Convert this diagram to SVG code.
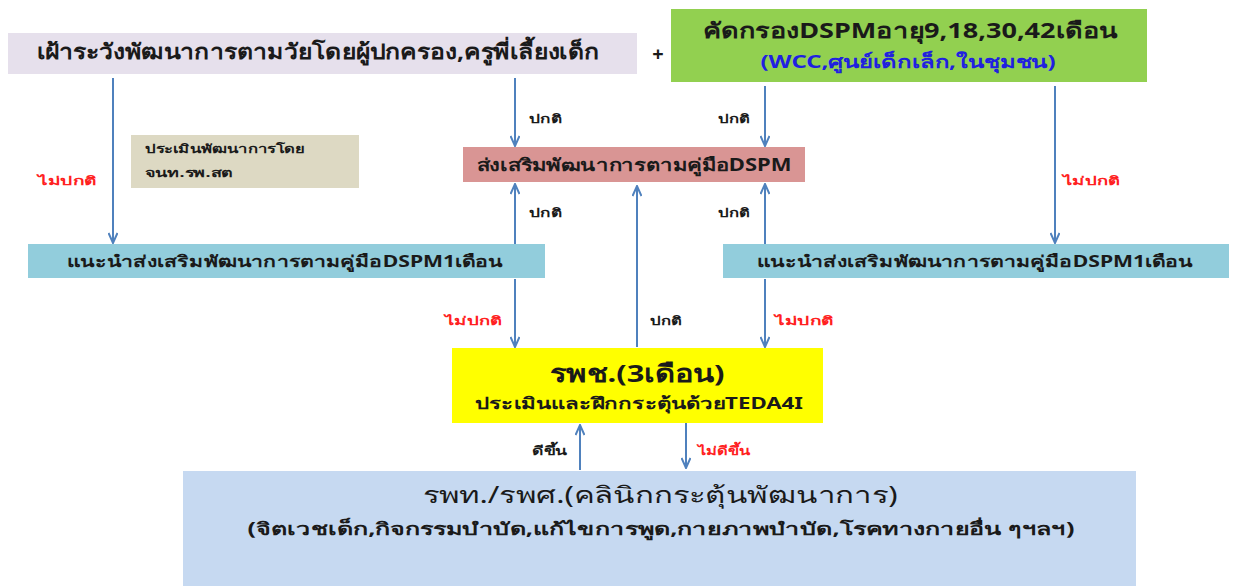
<svg xmlns="http://www.w3.org/2000/svg" width="1234" height="586" viewBox="0 0 1234 586">
<style>
text{font-family:"Noto Sans","DejaVu Sans","Liberation Sans",sans-serif;text-anchor:middle;font-weight:bold}
.t{fill:#1a1a1a}
.lbl{font-size:12px;fill:#1a1a1a;text-anchor:start}
.red{font-size:12px;fill:#ff2020;text-anchor:start}
.c{stroke:#4f81bd;stroke-width:2;fill:none;marker-end:url(#ah)}
</style>
<defs>
<marker id="ah" viewBox="0 0 12 10" refX="11" refY="5" markerWidth="12" markerHeight="10" markerUnits="userSpaceOnUse" orient="auto">
<path d="M1,0.5 L11,5 L1,9.5" fill="none" stroke="#4f81bd" stroke-width="2"/>
</marker>
</defs>
<rect width="1234" height="586" fill="#fff"/>
<g id="connectors">
<line class="c" x1="113" y1="78" x2="113" y2="243"/>
<line class="c" x1="515" y1="78" x2="515" y2="146"/>
<line class="c" x1="765" y1="86" x2="765" y2="146"/>
<line class="c" x1="515" y1="244" x2="515" y2="184"/>
<line class="c" x1="765" y1="244" x2="765" y2="184"/>
<line class="c" x1="637" y1="347" x2="637" y2="186"/>
<line class="c" x1="1055" y1="86" x2="1055" y2="243"/>
<line class="c" x1="515" y1="279" x2="515" y2="347"/>
<line class="c" x1="765" y1="279" x2="765" y2="347"/>
<line class="c" x1="580" y1="470" x2="580" y2="425"/>
<line class="c" x1="686" y1="423" x2="686" y2="468"/>
<text class="red" x="38" y="185" textLength="59" lengthAdjust="spacingAndGlyphs">ไม่ปกติ</text>
<text class="lbl" x="529" y="123" textLength="33" lengthAdjust="spacingAndGlyphs">ปกติ</text>
<text class="lbl" x="718" y="123" textLength="32" lengthAdjust="spacingAndGlyphs">ปกติ</text>
<text class="lbl" x="529" y="217" textLength="33" lengthAdjust="spacingAndGlyphs">ปกติ</text>
<text class="lbl" x="718" y="217" textLength="32" lengthAdjust="spacingAndGlyphs">ปกติ</text>
<text class="red" x="1063" y="185" textLength="57" lengthAdjust="spacingAndGlyphs">ไม่ปกติ</text>
<text class="red" x="445" y="325" textLength="57" lengthAdjust="spacingAndGlyphs">ไม่ปกติ</text>
<text class="lbl" x="650" y="325" textLength="32" lengthAdjust="spacingAndGlyphs">ปกติ</text>
<text class="red" x="775" y="325" textLength="59" lengthAdjust="spacingAndGlyphs">ไม่ปกติ</text>
<text class="lbl" x="532" y="455" textLength="35" lengthAdjust="spacingAndGlyphs">ดีขึ้น</text>
<text class="red" x="698" y="455" textLength="52" lengthAdjust="spacingAndGlyphs">ไม่ดีขึ้น</text>
</g>
<g id="n-watch">
<rect x="8" y="33" width="629" height="41" fill="#e6e0ec"/>
<text class="t" x="318" y="59" font-size="21" textLength="563" lengthAdjust="spacingAndGlyphs">เฝ้าระวังพัฒนาการตามวัยโดยผู้ปกครอง,ครูพี่เลี้ยงเด็ก</text>
</g>
<g id="n-plus">
<text class="t" x="658" y="61" font-size="20">+</text>
</g>
<g id="n-screen">
<rect x="671" y="9" width="476" height="73" fill="#92d050"/>
<text class="t" x="910" y="38" font-size="21" textLength="415" lengthAdjust="spacingAndGlyphs">คัดกรองDSPMอายุ9,18,30,42เดือน</text>
<text x="908" y="68" font-size="18" fill="#2020e0" textLength="295" lengthAdjust="spacingAndGlyphs">(WCC,ศูนย์เด็กเล็ก,ในชุมชน)</text>
</g>
<g id="n-assess">
<rect x="131" y="135" width="228" height="53" fill="#ddd9c3"/>
<text class="t" x="145" y="153" font-size="12" style="text-anchor:start" textLength="160" lengthAdjust="spacingAndGlyphs">ประเมินพัฒนาการโดย</text>
<text class="t" x="145" y="177" font-size="12" style="text-anchor:start" textLength="88" lengthAdjust="spacingAndGlyphs">จนท.รพ.สต</text>
</g>
<g id="n-promote">
<rect x="463" y="147" width="342" height="35" fill="#d99594"/>
<text class="t" x="634" y="171" font-size="17" textLength="315" lengthAdjust="spacingAndGlyphs">ส่งเสริมพัฒนาการตามคู่มือDSPM</text>
</g>
<g id="n-adviseL">
<rect x="28" y="244" width="517" height="34" fill="#92cddc"/>
<text class="t" x="285" y="267" font-size="16" textLength="436" lengthAdjust="spacingAndGlyphs">แนะนำส่งเสริมพัฒนาการตามคู่มือDSPM1เดือน</text>
</g>
<g id="n-adviseR">
<rect x="723" y="244" width="506" height="34" fill="#92cddc"/>
<text class="t" x="975" y="267" font-size="16" textLength="436" lengthAdjust="spacingAndGlyphs">แนะนำส่งเสริมพัฒนาการตามคู่มือDSPM1เดือน</text>
</g>
<g id="n-community">
<rect x="452" y="348" width="371" height="75" fill="#ffff00"/>
<text class="t" x="637" y="382" font-size="24" textLength="175" lengthAdjust="spacingAndGlyphs">รพช.(3เดือน)</text>
<text class="t" x="639" y="409" font-size="16" textLength="328" lengthAdjust="spacingAndGlyphs">ประเมินและฝึกกระตุ้นด้วยTEDA4I</text>
</g>
<g id="n-hospital">
<rect x="183" y="471" width="953" height="115" fill="#c6d9f1"/>
<text class="t" x="660" y="503" font-size="23" style="font-weight:normal" textLength="475" lengthAdjust="spacingAndGlyphs">รพท./รพศ.(คลินิกกระตุ้นพัฒนาการ)</text>
<text class="t" x="661" y="535" font-size="17" textLength="827" lengthAdjust="spacingAndGlyphs">(จิตเวชเด็ก,กิจกรรมบำบัด,แก้ไขการพูด,กายภาพบำบัด,โรคทางกายอื่น ๆฯลฯ)</text>
</g>
</svg>
